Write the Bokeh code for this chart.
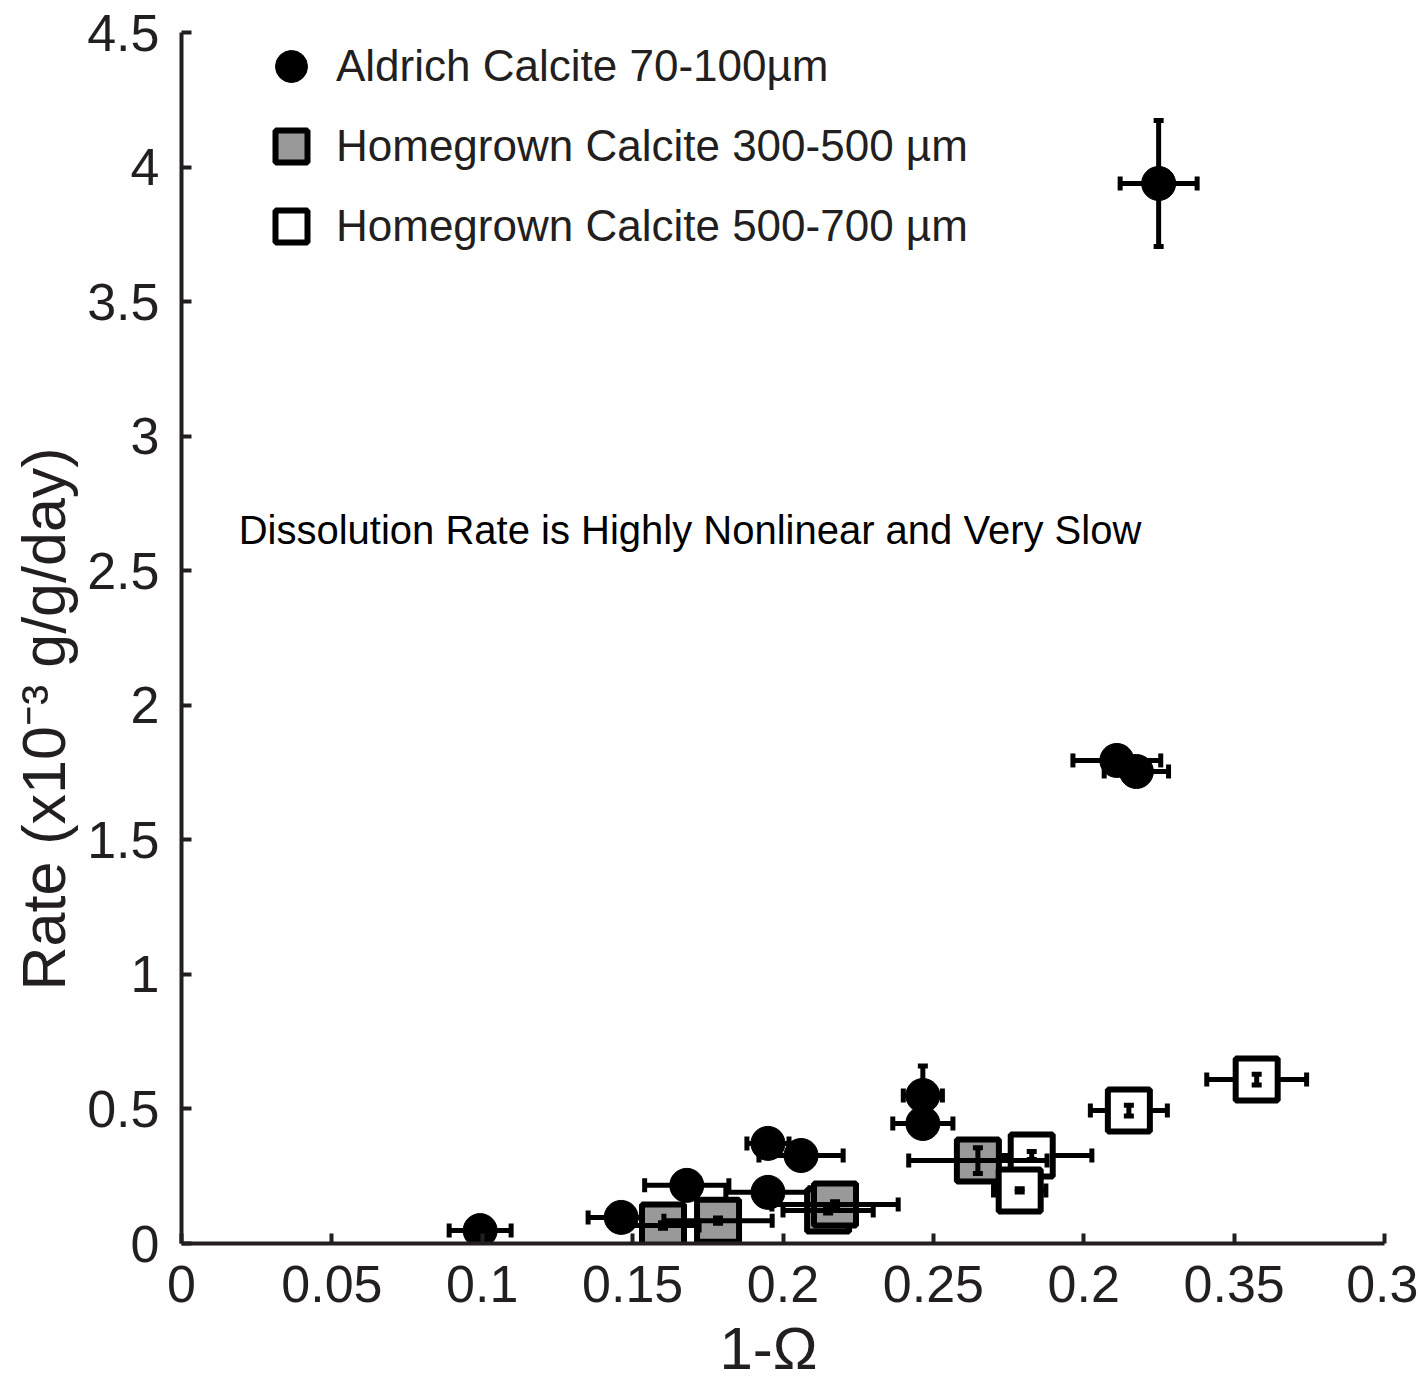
from bokeh.plotting import figure
from bokeh.models import (ColumnDataSource, Whisker, TeeHead, Legend, LegendItem,
                          FixedTicker, Label, Title)
from bokeh.embed import file_html
from bokeh.resources import INLINE

# ---- data ----
ald_x = [0.0993, 0.1462, 0.1680, 0.1950, 0.2060, 0.1950, 0.2465, 0.2465, 0.3110, 0.3175, 0.3249]
ald_y = [0.048, 0.097, 0.216, 0.372, 0.327, 0.190, 0.550, 0.446, 1.795, 1.754, 3.939]
ald_xerr = [0.0103, 0.011, 0.014, 0.007, 0.014, 0.014, 0.0065, 0.010, 0.0146, 0.0107, 0.0128]
ald_yerr = [0.01, 0.01, 0.01, 0.01, 0.01, 0.01, 0.11, 0.02, 0.02, 0.02, 0.234]

hg3_x = [0.1601, 0.1784, 0.2150, 0.2173, 0.2648]
hg3_y = [0.067, 0.085, 0.123, 0.145, 0.308]
hg3_xerr = [0.012, 0.018, 0.015, 0.021, 0.023]
hg3_yerr = [0.01, 0.01, 0.01, 0.01, 0.048]

hg5_x = [0.2827, 0.2787, 0.3150, 0.3575]
hg5_y = [0.327, 0.197, 0.494, 0.609]
hg5_xerr = [0.020, 0.0087, 0.0128, 0.0166]
hg5_yerr = [0.015, 0.006, 0.02, 0.02]

series_labels = ["Aldrich Calcite 70-100µm",
                 "Homegrown Calcite 300-500 µm",
                 "Homegrown Calcite 500-700 µm"]

x_ticks = [0, 0.05, 0.1, 0.15, 0.2, 0.25, 0.3, 0.35, 0.4]
x_tick_labels = ["0", "0.05", "0.1", "0.15", "0.2", "0.25", "0.2", "0.35", "0.3"]
y_ticks = [0, 0.5, 1, 1.5, 2, 2.5, 3, 3.5, 4, 4.5]
y_tick_labels = ["0", "0.5", "1", "1.5", "2", "2.5", "3", "3.5", "4", "4.5"]

x_title = "1-Ω"
y_title = "Rate (x10⁻³ g/g/day)"
note = "Dissolution Rate is Highly Nonlinear and Very Slow"

FONT = "Liberation Sans"
INK = "#231f20"


def make_source(x, y, xe, ye):
    return ColumnDataSource(dict(
        x=x, y=y,
        xl=[a - e for a, e in zip(x, xe)], xu=[a + e for a, e in zip(x, xe)],
        yl=[a - e for a, e in zip(y, ye)], yu=[a + e for a, e in zip(y, ye)],
    ))


p = figure(width=1418, height=1391, output_backend="svg", toolbar_location=None,
           x_range=(0, 0.4), y_range=(0, 4.5),
           min_border_left=180, min_border_right=34, min_border_top=32,
           min_border_bottom=148)
p.xgrid.visible = False
p.ygrid.visible = False
p.outline_line_color = None
p.background_fill_color = "white"

for ax in (p.xaxis[0], p.yaxis[0]):
    ax.axis_line_width = 4
    ax.axis_line_color = INK
    ax.major_tick_in = 10
    ax.major_tick_out = 0
    ax.major_tick_line_width = 4
    ax.major_tick_line_color = INK
    ax.minor_tick_line_color = None
    ax.major_label_text_font = FONT
    ax.major_label_text_font_size = "52px"
    ax.major_label_text_color = INK

p.xaxis[0].ticker = FixedTicker(ticks=x_ticks)
p.xaxis[0].major_label_overrides = dict(zip(x_ticks, x_tick_labels))
p.yaxis[0].ticker = FixedTicker(ticks=y_ticks)
p.yaxis[0].major_label_overrides = dict(zip(y_ticks, y_tick_labels))
p.xaxis[0].major_label_standoff = 22
p.yaxis[0].major_label_standoff = 22

# axis titles as side-panel titles (the reference's y title sits below centre)
p.add_layout(Title(text=y_title, align="left", offset=253, standoff=14,
                   text_font=FONT, text_font_size="61px", text_font_style="normal",
                   text_color=INK), "left")
p.add_layout(Title(text=x_title, align="left", offset=538, standoff=16,
                   text_font=FONT, text_font_size="60px", text_font_style="normal",
                   text_color=INK), "below")


def whiskers(src, level_x, level_y):
    wx = Whisker(source=src, base="y", lower="xl", upper="xu", dimension="width",
                 line_width=5, line_color="black", level=level_x,
                 lower_head=TeeHead(size=14, line_width=5, line_color="black"),
                 upper_head=TeeHead(size=14, line_width=5, line_color="black"))
    wy = Whisker(source=src, base="x", lower="yl", upper="yu", dimension="height",
                 line_width=5, line_color="black", level=level_y,
                 lower_head=TeeHead(size=10, line_width=5, line_color="black"),
                 upper_head=TeeHead(size=10, line_width=5, line_color="black"))
    p.add_layout(wx)
    p.add_layout(wy)


s_ald = make_source(ald_x, ald_y, ald_xerr, ald_yerr)
s_hg3 = make_source(hg3_x, hg3_y, hg3_xerr, hg3_yerr)
s_hg5 = make_source(hg5_x, hg5_y, hg5_xerr, hg5_yerr)

whiskers(s_ald, "underlay", "underlay")
whiskers(s_hg3, "overlay", "overlay")
whiskers(s_hg5, "underlay", "overlay")

r_ald = p.scatter("x", "y", source=s_ald, marker="circle", size=34,
                  fill_color="black", line_color="black", line_width=1)
r_hg3 = p.scatter("x", "y", source=s_hg3, marker="square", size=42,
                  fill_color="#999999", line_color="black", line_width=6)
r_hg5 = p.scatter("x", "y", source=s_hg5, marker="square", size=42,
                  fill_color="white", line_color="black", line_width=6)

legend = Legend(items=[LegendItem(label=series_labels[0], renderers=[r_ald]),
                       LegendItem(label=series_labels[1], renderers=[r_hg3]),
                       LegendItem(label=series_labels[2], renderers=[r_hg5])],
                location=(70, 977), glyph_width=80, glyph_height=80,
                spacing=0, padding=0, margin=0, label_standoff=5,
                label_text_font=FONT, label_text_font_size="44px",
                label_text_color=INK, label_height=80,
                border_line_color=None, background_fill_alpha=0)
p.add_layout(legend)

p.add_layout(Label(x=0.019, y=2.65, text=note, text_font=FONT,
                   text_font_size="40px", text_baseline="middle", text_color="black"))

open("out.html", "w").write(file_html(p, INLINE))
